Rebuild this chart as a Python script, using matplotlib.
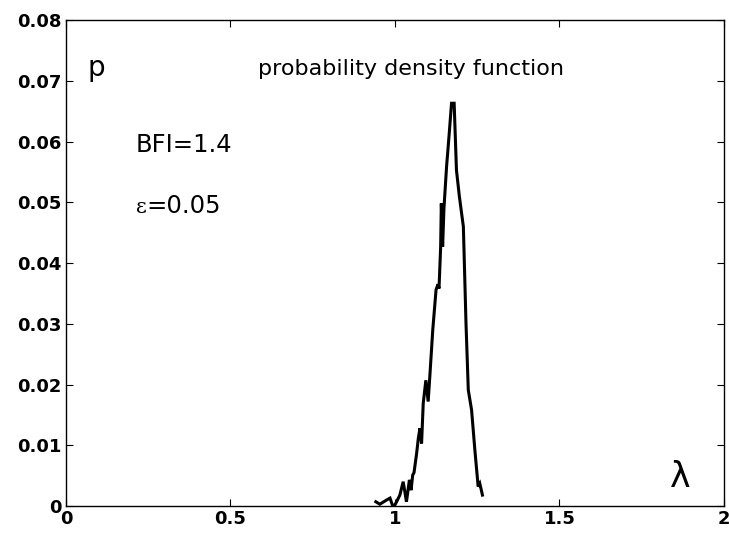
import matplotlib
matplotlib.use("Agg")
import matplotlib.pyplot as plt

# pdf curve
lam = [0.942, 0.954, 0.960, 0.975, 0.985, 0.992, 0.998, 1.005, 1.015, 1.025,
       1.030, 1.035, 1.044, 1.049, 1.054, 1.058, 1.066, 1.071, 1.076, 1.081,
       1.086, 1.094, 1.101, 1.106, 1.115, 1.125, 1.131, 1.134, 1.139, 1.141,
       1.145, 1.149, 1.157, 1.165, 1.172, 1.180, 1.187, 1.196, 1.208, 1.216,
       1.223, 1.233, 1.243, 1.253, 1.258, 1.261, 1.266]
pdf = [0.0007, 0.0003, 0.0005, 0.0010, 0.0013, 0.0002, 0.0000, 0.0007, 0.0018, 0.0040,
       0.0024, 0.0007, 0.0043, 0.0026, 0.0051, 0.0055, 0.0087, 0.0111, 0.0128, 0.0103,
       0.0169, 0.0207, 0.0172, 0.0213, 0.0290, 0.0356, 0.0365, 0.0358, 0.0427, 0.0498,
       0.0427, 0.0490, 0.0559, 0.0613, 0.0663, 0.0663, 0.0553, 0.0509, 0.0460, 0.0301,
       0.0191, 0.0158, 0.0092, 0.0032, 0.0037, 0.0030, 0.0018]

xticks = [0, 0.5, 1, 1.5, 2]
xtick_labels = ["0", "0.5", "1", "1.5", "2"]
yticks = [0, 0.01, 0.02, 0.03, 0.04, 0.05, 0.06, 0.07, 0.08]
ytick_labels = ["0", "0.01", "0.02", "0.03", "0.04", "0.05", "0.06", "0.07", "0.08"]

plt.rcParams['font.family'] = ['DejaVu Sans']

fig = plt.figure(figsize=(7.29, 5.34), dpi=100)
ax = fig.add_axes([0.0905, 0.0524, 0.9025, 0.9101])

ax.plot(lam, pdf, color='black', lw=2.2, solid_joinstyle='miter')

ax.set_xlim(0, 2)
ax.set_ylim(0, 0.08)
ax.set_xticks(xticks)
ax.set_xticklabels(xtick_labels, fontweight='bold', fontsize=13)
ax.set_yticks(yticks)
ax.set_yticklabels(ytick_labels, fontweight='bold', fontsize=13)
ax.tick_params(direction='in', top=True, right=True, length=5, width=0.8, pad=3)
for s in ax.spines.values():
    s.set_linewidth(1.0)

ax.text(0.064, 0.0708, "p", fontsize=20, va='baseline')
ax.text(0.585, 0.0710, "probability density function", fontsize=16, va='baseline')
ax.text(0.213, 0.0583, "BFI=1.4", fontsize=17.5, va='baseline')
ax.text(0.213, 0.0482, "\u03b5", fontsize=15, va='baseline', family='DejaVu Serif')
ax.text(0.245, 0.0482, "=0.05", fontsize=17.5, va='baseline')
ax.text(1.835, 0.0031, "\u03bb", fontsize=25, va='baseline')

fig.savefig("out.png", dpi=100)
